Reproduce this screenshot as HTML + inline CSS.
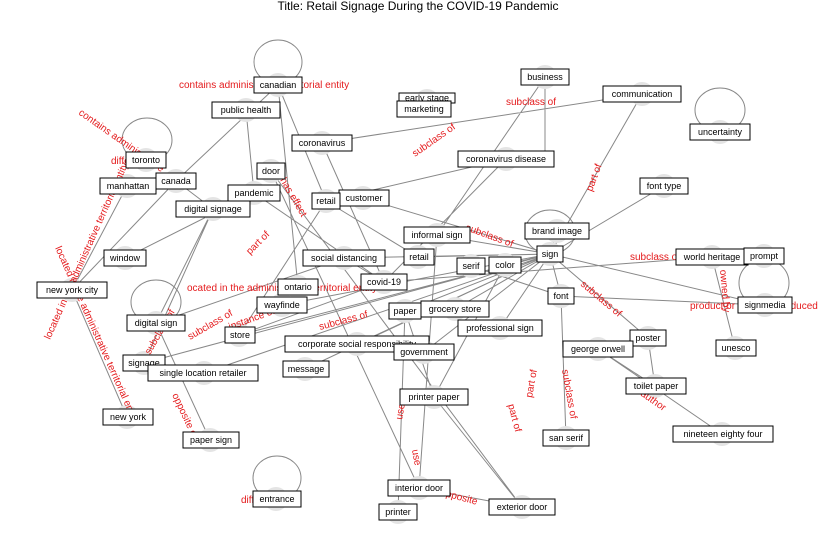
<!DOCTYPE html>
<html><head><meta charset="utf-8"><style>
body{margin:0;background:#fff;}
svg{display:block;font-family:"Liberation Sans","DejaVu Sans",sans-serif;}
.e{stroke:#888;stroke-width:1;fill:none}
.c{fill:#e4e4e4}
.l{fill:#e41a1c;font-size:10px}
.n rect{fill:#fff;stroke:#000;stroke-width:1}
.n text{font-size:9px;fill:#000;text-anchor:middle;dominant-baseline:central}
</style></head><body>
<svg width="837" height="559" viewBox="0 0 837 559">
<text x="418" y="6" font-size="12" text-anchor="middle" dominant-baseline="central">Title: Retail Signage During the COVID-19 Pandemic</text>
<g class="e">
<ellipse cx="278" cy="62" rx="24" ry="22"/>
<ellipse cx="720" cy="110" rx="25" ry="22"/>
<ellipse cx="147" cy="140" rx="25" ry="22"/>
<ellipse cx="277" cy="478" rx="24" ry="22"/>
<ellipse cx="764" cy="283" rx="25" ry="24"/>
<ellipse cx="156" cy="302" rx="25" ry="22"/>
<ellipse cx="550" cy="232" rx="25" ry="22"/>
<path d="M278 85 L326 201 M278 85 L176 181 M278 85 L298 287 M176 181 L127 186 M176 181 L72 290 M127 186 L72 290 M72 290 L127 417 M545 77 L545 159 M545 77 L437 235 M642 94 L550 254 M642 94 L322 143 M664 186 L550 254 M246 110 L254 193 M322 143 L384 282 M506 159 L384 282 M506 159 L326 201 M271 171 L419 488 M271 171 L522 507 M254 193 L384 282 M254 193 L125 258 M363 198 L550 254 M326 201 L239 335 M326 201 L418 257 M213 209 L156 323 M213 209 L144 363 M557 231 L550 254 M437 235 L550 254 M344 258 L550 254 M418 257 L550 254 M471 266 L561 296 M505 265 L550 254 M384 282 L344 258 M384 282 L712 257 M550 254 L561 296 M550 254 L405 311 M550 254 L500 328 M550 254 L648 338 M550 254 L764 305 M561 296 L764 305 M561 296 L566 438 M282 305 L550 254 M405 311 L434 397 M405 311 L398 512 M455 309 L550 254 M500 328 L550 254 M239 335 L550 254 M357 344 L550 254 M598 349 L722 434 M598 349 L655 386 M424 352 L550 254 M144 363 L550 254 M156 323 L210 440 M204 373 L550 254 M305 369 L550 254 M434 397 L522 507 M419 488 L522 507 M735 348 L712 257 M648 338 L655 386 M156 323 L344 258 M239 335 L384 282 M176 181 L213 209 M398 512 L405 311 M505 265 L434 397 M437 235 L419 488"/>
</g>
<g class="c">
<circle cx="278" cy="85" r="12"/><circle cx="545" cy="77" r="12"/><circle cx="642" cy="94" r="12"/><circle cx="720" cy="132" r="12"/><circle cx="427" cy="101" r="12"/><circle cx="246" cy="110" r="12"/><circle cx="322" cy="143" r="12"/><circle cx="146" cy="160" r="12"/><circle cx="506" cy="159" r="12"/><circle cx="271" cy="171" r="12"/><circle cx="176" cy="181" r="12"/><circle cx="127" cy="186" r="12"/><circle cx="254" cy="193" r="12"/><circle cx="664" cy="186" r="12"/><circle cx="363" cy="198" r="12"/><circle cx="326" cy="201" r="12"/><circle cx="213" cy="209" r="12"/><circle cx="557" cy="231" r="12"/><circle cx="437" cy="235" r="12"/><circle cx="125" cy="258" r="12"/><circle cx="344" cy="258" r="12"/><circle cx="418" cy="257" r="12"/><circle cx="550" cy="254" r="12"/><circle cx="712" cy="257" r="12"/><circle cx="764" cy="256" r="12"/><circle cx="471" cy="266" r="12"/><circle cx="505" cy="265" r="12"/><circle cx="384" cy="282" r="12"/><circle cx="298" cy="287" r="12"/><circle cx="72" cy="290" r="12"/><circle cx="561" cy="296" r="12"/><circle cx="282" cy="305" r="12"/><circle cx="765" cy="305" r="12"/><circle cx="405" cy="311" r="12"/><circle cx="455" cy="309" r="12"/><circle cx="156" cy="323" r="12"/><circle cx="500" cy="328" r="12"/><circle cx="239" cy="335" r="12"/><circle cx="648" cy="338" r="12"/><circle cx="357" cy="344" r="12"/><circle cx="735" cy="348" r="12"/><circle cx="598" cy="349" r="12"/><circle cx="424" cy="352" r="12"/><circle cx="144" cy="363" r="12"/><circle cx="204" cy="373" r="12"/><circle cx="305" cy="369" r="12"/><circle cx="655" cy="386" r="12"/><circle cx="434" cy="397" r="12"/><circle cx="127" cy="417" r="12"/><circle cx="722" cy="434" r="12"/><circle cx="566" cy="438" r="12"/><circle cx="210" cy="440" r="12"/><circle cx="419" cy="488" r="12"/><circle cx="276" cy="499" r="12"/><circle cx="522" cy="507" r="12"/><circle cx="398" cy="512" r="12"/>
</g>
<g class="l">
<text x="179" y="88">contains administrative territorial entity</text>
<text x="506" y="105">subclass of</text>
<text x="111" y="164">differ from</text>
<text x="187" y="291">ocated in the administrative territorial entity</text>
<text x="630" y="260">subclass of</text>
<text x="690" y="309">product or material produced</text>
<text x="241" y="503">different from</text>
<text transform="translate(78,114) rotate(35)">contains administrative</text>
<text transform="translate(55,248) rotate(66)">located in the administrative territorial entity</text>
<text transform="translate(50,340) rotate(-66)">located in the administrative territorial entity</text>
<text transform="translate(415,157) rotate(-35)">subclass of</text>
<text transform="translate(592,192) rotate(-70)">part of</text>
<text transform="translate(150,355) rotate(-60)">subclass of</text>
<text transform="translate(190,340) rotate(-30)">subclass of</text>
<text transform="translate(230,330) rotate(-20)">instance of</text>
<text transform="translate(320,330) rotate(-15)">subclass of</text>
<text transform="translate(465,230) rotate(20)">subclass of</text>
<text transform="translate(580,285) rotate(40)">subclass of</text>
<text transform="translate(508,405) rotate(75)">part of</text>
<text transform="translate(532,398) rotate(-80)">part of</text>
<text transform="translate(562,370) rotate(80)">subclass of</text>
<text transform="translate(402,420) rotate(-80)">use</text>
<text transform="translate(412,450) rotate(80)">use</text>
<text transform="translate(440,495) rotate(15)">opposite</text>
<text transform="translate(172,395) rotate(65)">opposite of</text>
<text transform="translate(720,270) rotate(85)">owned by</text>
<text transform="translate(640,395) rotate(35)">author</text>
<text transform="translate(250,255) rotate(-45)">part of</text>
<text transform="translate(280,180) rotate(60)">has effect</text>
</g>
<g class="n">
<rect x="254" y="77" width="48" height="16"/><text x="278" y="85">canadian</text>
<rect x="521" y="69" width="48" height="16"/><text x="545" y="77">business</text>
<rect x="603" y="86" width="78" height="16"/><text x="642" y="94">communication</text>
<rect x="690" y="124" width="60" height="16"/><text x="720" y="132">uncertainty</text>
<rect x="399" y="93" width="56" height="10"/><text x="427" y="98">early stage</text>
<rect x="397" y="101" width="54" height="16"/><text x="424" y="109">marketing</text>
<rect x="212" y="102" width="68" height="16"/><text x="246" y="110">public health</text>
<rect x="292" y="135" width="60" height="16"/><text x="322" y="143">coronavirus</text>
<rect x="126" y="152" width="40" height="16"/><text x="146" y="160">toronto</text>
<rect x="458" y="151" width="96" height="16"/><text x="506" y="159">coronavirus disease</text>
<rect x="257" y="163" width="28" height="16"/><text x="271" y="171">door</text>
<rect x="100" y="178" width="56" height="16"/><text x="128" y="186">manhattan</text>
<rect x="156" y="173" width="40" height="16"/><text x="176" y="181">canada</text>
<rect x="228" y="185" width="52" height="16"/><text x="254" y="193">pandemic</text>
<rect x="640" y="178" width="48" height="16"/><text x="664" y="186">font type</text>
<rect x="339" y="190" width="50" height="16"/><text x="364" y="198">customer</text>
<rect x="312" y="193" width="28" height="16"/><text x="326" y="201">retail</text>
<rect x="176" y="201" width="74" height="16"/><text x="213" y="209">digital signage</text>
<rect x="525" y="223" width="64" height="16"/><text x="557" y="231">brand image</text>
<rect x="404" y="227" width="66" height="16"/><text x="437" y="235">informal sign</text>
<rect x="104" y="250" width="42" height="16"/><text x="125" y="258">window</text>
<rect x="303" y="250" width="82" height="16"/><text x="344" y="258">social distancing</text>
<rect x="404" y="249" width="30" height="16"/><text x="419" y="257">retail</text>
<rect x="537" y="246" width="26" height="16"/><text x="550" y="254">sign</text>
<rect x="676" y="249" width="72" height="16"/><text x="712" y="257">world heritage</text>
<rect x="744" y="248" width="40" height="16"/><text x="764" y="256">prompt</text>
<rect x="457" y="258" width="28" height="16"/><text x="471" y="266">serif</text>
<rect x="489" y="257" width="32" height="16"/><text x="505" y="265">color</text>
<rect x="361" y="274" width="46" height="16"/><text x="384" y="282">covid-19</text>
<rect x="278" y="279" width="40" height="16"/><text x="298" y="287">ontario</text>
<rect x="37" y="282" width="70" height="16"/><text x="72" y="290">new york city</text>
<rect x="548" y="288" width="26" height="16"/><text x="561" y="296">font</text>
<rect x="257" y="297" width="50" height="16"/><text x="282" y="305">wayfinde</text>
<rect x="738" y="297" width="54" height="16"/><text x="765" y="305">signmedia</text>
<rect x="389" y="303" width="32" height="16"/><text x="405" y="311">paper</text>
<rect x="421" y="301" width="68" height="16"/><text x="455" y="309">grocery store</text>
<rect x="127" y="315" width="58" height="16"/><text x="156" y="323">digital sign</text>
<rect x="458" y="320" width="84" height="16"/><text x="500" y="328">professional sign</text>
<rect x="225" y="327" width="30" height="16"/><text x="240" y="335">store</text>
<rect x="630" y="330" width="36" height="16"/><text x="648" y="338">poster</text>
<rect x="285" y="336" width="144" height="16"/><text x="357" y="344">corporate social responsibility</text>
<rect x="716" y="340" width="40" height="16"/><text x="736" y="348">unesco</text>
<rect x="563" y="341" width="70" height="16"/><text x="598" y="349">george orwell</text>
<rect x="394" y="344" width="60" height="16"/><text x="424" y="352">government</text>
<rect x="123" y="355" width="42" height="16"/><text x="144" y="363">signage</text>
<rect x="148" y="365" width="110" height="16"/><text x="203" y="373">single location retailer</text>
<rect x="283" y="361" width="46" height="16"/><text x="306" y="369">message</text>
<rect x="626" y="378" width="60" height="16"/><text x="656" y="386">toilet paper</text>
<rect x="400" y="389" width="68" height="16"/><text x="434" y="397">printer paper</text>
<rect x="103" y="409" width="50" height="16"/><text x="128" y="417">new york</text>
<rect x="673" y="426" width="100" height="16"/><text x="723" y="434">nineteen eighty four</text>
<rect x="543" y="430" width="46" height="16"/><text x="566" y="438">san serif</text>
<rect x="183" y="432" width="56" height="16"/><text x="211" y="440">paper sign</text>
<rect x="388" y="480" width="62" height="16"/><text x="419" y="488">interior door</text>
<rect x="253" y="491" width="48" height="16"/><text x="277" y="499">entrance</text>
<rect x="489" y="499" width="66" height="16"/><text x="522" y="507">exterior door</text>
<rect x="379" y="504" width="38" height="16"/><text x="398" y="512">printer</text>
</g>
</svg>
</body></html>
